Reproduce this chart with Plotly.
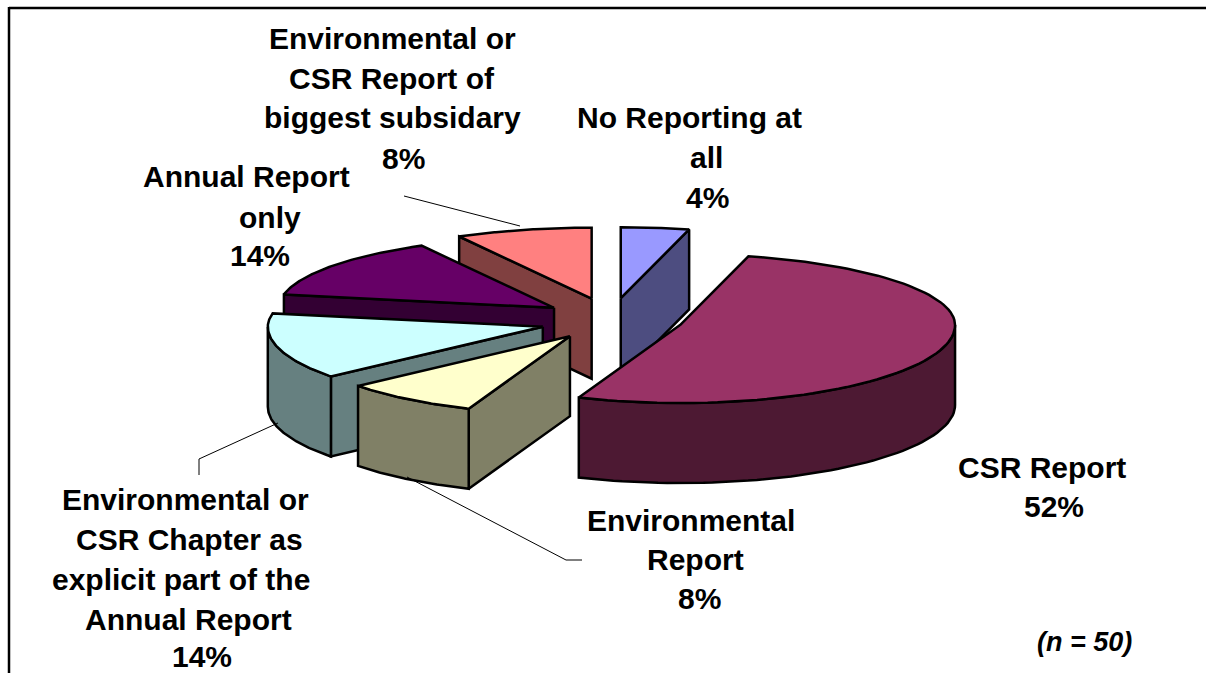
import numpy as np
import plotly.graph_objects as go

# Data (clockwise from 12 o'clock)
slice_names = ["No Reporting at all", "CSR Report", "Environmental Report",
               "Environmental or CSR Chapter as explicit part of the Annual Report",
               "Annual Report only", "Environmental or CSR Report of biggest subsidary"]
shares = [4, 52, 8, 14, 14, 8]
top_colors = ["#9999FF", "#993366", "#FFFFCC", "#CCFFFF", "#660066", "#FF8080"]
side_colors = ["#4D4D80", "#4D1933", "#808066", "#668080", "#330033", "#804040"]
explode = [0.283, 0.264, 0.254, 0.256, 0.256, 0.283]
nudge_y = [0, 0, 2, 3, 0, 0]
draw_order = [5, 0, 4, 3, 2, 1]

labels = [
    ("Environmental or", 392, 38), ("CSR Report of", 392, 78), ("biggest subsidary", 392, 117), ("8%", 403, 158),
    ("No Reporting at", 689, 117), ("all", 706, 157), ("4%", 707, 197),
    ("Annual Report", 246, 176), ("only", 270, 217), ("14%", 260, 255),
    ("Environmental or", 185, 499), ("CSR Chapter as", 189, 539), ("explicit part of the", 181, 579),
    ("Annual Report", 188, 619), ("14%", 202, 656),
    ("Environmental", 691, 520), ("Report", 695, 559), ("8%", 699, 598),
    ("CSR Report", 1042, 467), ("52%", 1054, 506),
]

CX, CY, RX, RY, RY_BACK, RY_FRONT, DEPTH = 611, 319, 275, 74, 71, 78, 80
LW = 2.5


def project(theta, ex, ey):
    c = np.cos(theta)
    return ex + RX * np.sin(theta), ey - np.where(c > 0, RY_BACK, RY_FRONT) * c


fig = go.Figure()


def poly(x, y, fill):
    fig.add_trace(go.Scatter(x=np.r_[x, x[0]], y=np.r_[y, y[0]], mode="lines", fill="toself",
                             fillcolor=fill, line=dict(color="black", width=LW),
                             hoverinfo="skip", showlegend=False))


edges = np.radians(np.r_[0, np.cumsum(shares)] * 3.6)
for i in draw_order:
    a0, a1 = edges[i], edges[i + 1]
    mid = (a0 + a1) / 2
    ax = CX + explode[i] * RX * np.sin(mid)
    ay = CY - explode[i] * RY * np.cos(mid) + nudge_y[i]
    # radial cut faces
    for a, visible in ((a0, np.sin(a0) < -1e-6), (a1, np.sin(a1) > 1e-6)):
        if visible:
            rx, ry = project(a, ax, ay)
            poly(np.array([ax, rx, rx, ax]), np.array([ay, ry, ry + DEPTH, ay + DEPTH]), side_colors[i])
    # outer wall (front half only)
    w0, w1 = max(a0, np.pi / 2), min(a1, 3 * np.pi / 2)
    if w1 > w0:
        t = np.linspace(w0, w1, 60)
        wx, wy = project(t, ax, ay)
        poly(np.r_[wx, wx[::-1]], np.r_[wy, wy[::-1] + DEPTH], side_colors[i])
    # top face
    t = np.linspace(a0, a1, 90)
    tx, ty = project(t, ax, ay)
    poly(np.r_[ax, tx], np.r_[ay, ty], top_colors[i])

# leader lines
for lx, ly in (([404, 520], [196, 226]), ([278, 199, 199], [423, 459, 475]), ([407, 566, 582], [477, 560, 560])):
    fig.add_trace(go.Scatter(x=lx, y=ly, mode="lines", line=dict(color="black", width=1),
                             hoverinfo="skip", showlegend=False))

annotations = [dict(x=x, y=y, text=f"<b>{t}</b>", showarrow=False, xanchor="center", yanchor="middle",
                    font=dict(family="Liberation Sans", size=30, color="black")) for t, x, y in labels]
annotations.append(dict(x=1084, y=642, text="<b><i>(n = 50)</i></b>", showarrow=False,
                        font=dict(family="Liberation Sans", size=27, color="black")))

frame = [dict(type="line", x0=9, x1=1206, y0=8, y1=8, line=dict(color="black", width=2.5)),
         dict(type="line", x0=9, x1=9, y0=7, y1=673, line=dict(color="black", width=2.5))]

fig.update_layout(width=1206, height=673, margin=dict(l=0, r=0, t=0, b=0), paper_bgcolor="white",
                  plot_bgcolor="white", annotations=annotations, shapes=frame, showlegend=False,
                  xaxis=dict(range=[0, 1206], visible=False, fixedrange=True),
                  yaxis=dict(range=[673, 0], visible=False, fixedrange=True))
fig.write_html("out.html", config=dict(displayModeBar=False),
               post_script="document.body.style.margin='0';document.documentElement.style.overflow='hidden';")
